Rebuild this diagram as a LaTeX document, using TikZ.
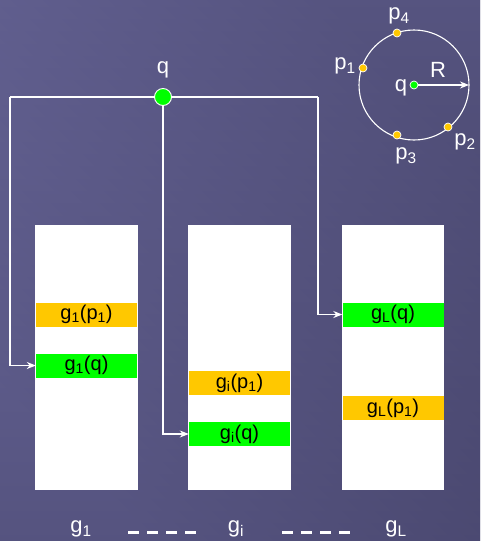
\documentclass[tikz,border=0pt]{standalone}
\usepackage{fontspec}
\setmainfont{Liberation Sans}
\usetikzlibrary{arrows.meta}
\definecolor{bgA}{RGB}{108,106,158}
\definecolor{bgB}{RGB}{64,62,98}
\definecolor{bandY}{RGB}{255,200,0}
\definecolor{bandG}{RGB}{0,255,0}
\definecolor{ptY}{RGB}{255,200,0}
\newcommand{\sbx}[1]{\textsubscript{#1}}
\begin{document}
\begin{tikzpicture}[x=1pt,y=-1pt,
  column/.style={fill=white,draw=none},
  band/.style={minimum width=101pt,minimum height=24pt,inner sep=0pt,text=black,font=\fontsize{20}{22}\selectfont},
  yband/.style={band,fill=bandY},
  gband/.style={band,fill=bandG},
  wire/.style={draw=white,line width=1.1pt},
  arr/.style={wire,-{Stealth[length=9pt,width=7pt]}},
  lab/.style={text=white,font=\fontsize{22}{24}\selectfont,inner sep=0pt},
  ydot/.style={circle,fill=ptY,draw=white,line width=0.7pt,inner sep=0pt,minimum size=8pt}]
\shade[left color=bgA,right color=bgB,shading angle=135] (0,0) rectangle (480,541);
\path[shade,top color=bgA,bottom color=bgB,opacity=0.5] (0,0) rectangle (480,541);
\useasboundingbox (0,0) rectangle (480,541);
% columns
\node[column,minimum width=103pt,minimum height=265pt,inner sep=0pt] (c1) at (86.5,357.5) {};
\node[column,minimum width=103pt,minimum height=265pt,inner sep=0pt] (c2) at (239.5,357.5) {};
\node[column,minimum width=102pt,minimum height=265pt,inner sep=0pt] (c3) at (393,357.5) {};
% bands
\node[yband] (b1p) at (86.5,314.5) {g\sbx{1}(p\sbx{1})};
\node[gband] (b1q) at (86.5,365.5) {g\sbx{1}(q)};
\node[yband] (b2p) at (239.5,383) {g\sbx{i}(p\sbx{1})};
\node[gband] (b2q) at (239.5,434) {g\sbx{i}(q)};
\node[gband] (b3q) at (393,314.5) {g\sbx{L}(q)};
\node[yband] (b3p) at (393,408) {g\sbx{L}(p\sbx{1})};
% query node
\coordinate (lt) at (10,97);
\coordinate (rt) at (318,97);
\draw[wire] (lt) -- (rt);
\draw[arr] (lt) |- (b1q.west);
\draw[arr] (rt) |- (b3q.west);
\node[circle,fill=bandG,draw=white,line width=0.9pt,minimum size=17pt,inner sep=0pt] (q) at (163,97) {};
\draw[arr] (q.south) |- (b2q.west);
\node[lab] (ql) at (163,70) {q};
% circle inset
\coordinate (cc) at (414,85);
\draw[white,line width=1.1pt] (cc) circle[radius=55];
\coordinate (re) at (469,85);
\draw[arr] (cc) -- (re);
\node[circle,fill=bandG,draw=white,line width=0.7pt,minimum size=8pt,inner sep=0pt] (qc) at (cc) {};
\node[ydot] (p4) at (397,33) {};
\node[ydot] (p1) at (363,68) {};
\node[ydot] (p3) at (397,135) {};
\node[ydot] (p2) at (448,127) {};
\node[lab] (p4l) at (399,16) {p\sbx{4}};
\node[lab] (p1l) at (345,66) {p\sbx{1}};
\node[lab] (p3l) at (406,156) {p\sbx{3}};
\node[lab] (p2l) at (465,142) {p\sbx{2}};
\node[lab] (qcl) at (401,88) {q};
\node[lab] (rl) at (438,70) {R};
% bottom labels
\node[lab] (g1) at (81,529) {g\sbx{1}};
\node[lab] (gi) at (236,529) {g\sbx{i}};
\node[lab] (gL) at (396,529) {g\sbx{L}};
\coordinate (d1a) at (128,532);
\coordinate (d1b) at (198,532);
\coordinate (d2a) at (282,532);
\coordinate (d2b) at (352,532);
\draw[white,line width=3pt,dash pattern=on 11pt off 8pt] (d1a) -- (d1b);
\draw[white,line width=3pt,dash pattern=on 11pt off 8pt] (d2a) -- (d2b);
\end{tikzpicture}
\end{document}
